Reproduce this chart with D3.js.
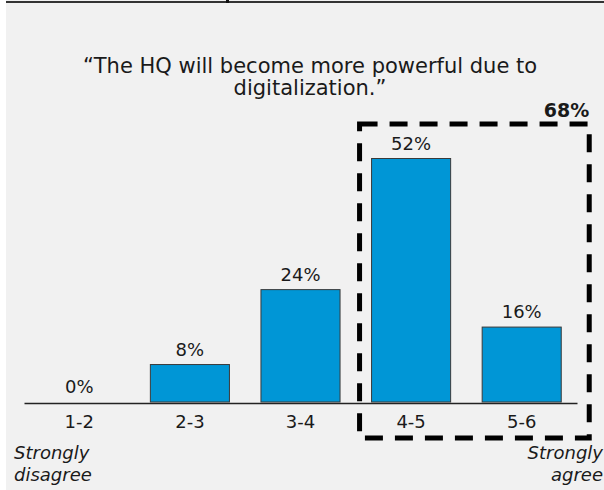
<!DOCTYPE html>
<html lang="en">
<head>
    <meta charset="UTF-8">
    <title>HQ digitalization survey</title>
    <script src="https://d3js.org/d3.v7.min.js"></script>
    <style>
      body { margin: 0; background: #fff; }
      text { font-family: "DejaVu Sans", Verdana, sans-serif; fill: #1a1a1a; }
    </style>
</head>
<body>
    <script>

      // Survey answers, share of respondents per band
      const categories = ["1-2", "2-3", "3-4", "4-5", "5-6"];
      const values = [0, 8, 24, 52, 16];
      const titleLines = ["\u201CThe HQ will become more powerful due to", "digitalization.\u201D"];
      const agreeTotal = "68%";

      const width = 604, height = 490;

      const svg = d3.select("body").append("svg")
        .attr("width", width).attr("height", height);

      // light grey panel with a dark rule across the top
      svg.append("rect").attr("x", 6).attr("y", 0)
        .attr("width", width - 6).attr("height", height)
        .attr("fill", "#f1f1f1");
      svg.append("rect").attr("x", 6).attr("y", 1)
        .attr("width", width - 6).attr("height", 2)
        .attr("fill", "#333");
      svg.append("rect").attr("x", 226).attr("y", 0)
        .attr("width", 3).attr("height", 3)
        .attr("fill", "#111");

      // title
      svg.append("g").selectAll("text")
        .data(titleLines)
        .enter().append("text")
        .attr("x", 310)
        .attr("y", (d, i) => 73 + i * 22)
        .attr("text-anchor", "middle")
        .attr("font-size", 21)
        .text(d => d);

      const x = d3.scaleBand()
        .domain(categories)
        .range([24, 577])
        .paddingInner(0.285)
        .paddingOuter(0.1425);

      const y = d3.scaleLinear()
        .domain([0, 52])
        .range([402, 158.5]);

      // bars
      svg.append("g").selectAll("rect")
        .data(values)
        .enter().append("rect")
        .attr("x", (d, i) => x(categories[i]))
        .attr("y", d => y(d))
        .attr("width", x.bandwidth())
        .attr("height", d => y(0) - y(d))
        .attr("fill", "#0096d6")
        .attr("stroke", "#3a3a3a")
        .attr("stroke-width", 1);

      // value labels
      svg.append("g").selectAll("text")
        .data(values)
        .enter().append("text")
        .attr("x", (d, i) => x(categories[i]) + x.bandwidth() / 2)
        .attr("y", d => y(d) - 9)
        .attr("text-anchor", "middle")
        .attr("font-size", 18)
        .text(d => d + "%");

      // category axis
      const axis = svg.append("g")
        .attr("transform", "translate(0,403)")
        .call(d3.axisBottom(x).tickSize(0).tickPadding(12));
      axis.select(".domain")
        .attr("stroke", "#222")
        .attr("stroke-width", 1.6);
      axis.selectAll(".tick text")
        .attr("font-family", "DejaVu Sans, Verdana, sans-serif")
        .attr("font-size", 18)
        .attr("fill", "#1a1a1a")
        .attr("dy", "0.71em");

      // scale ends
      const ends = [
        { lines: ["Strongly", "disagree"], x: 14, anchor: "start" },
        { lines: ["Strongly", "agree"], x: 603, anchor: "end" }
      ];
      ends.forEach(e => {
        svg.append("g").selectAll("text")
          .data(e.lines)
          .enter().append("text")
          .attr("x", e.x)
          .attr("y", (d, i) => 459 + i * 22)
          .attr("text-anchor", e.anchor)
          .attr("font-size", 18)
          .attr("font-style", "italic")
          .text(d => d);
      });

      // dashed box around the agreeing bands
      const boxLeft = x("4-5") - 12, boxRight = x("5-6") + x.bandwidth() + 28;
      svg.append("rect")
        .attr("x", boxLeft).attr("y", 124)
        .attr("width", boxRight - boxLeft).attr("height", 438 - 124)
        .attr("fill", "none")
        .attr("stroke", "#000")
        .attr("stroke-width", 5)
        .attr("stroke-dasharray", "18,12");

      svg.append("text")
        .attr("x", boxRight)
        .attr("y", 117)
        .attr("text-anchor", "end")
        .attr("font-size", 19)
        .attr("font-weight", "bold")
        .text(agreeTotal);

    </script>
</body>
</html>
